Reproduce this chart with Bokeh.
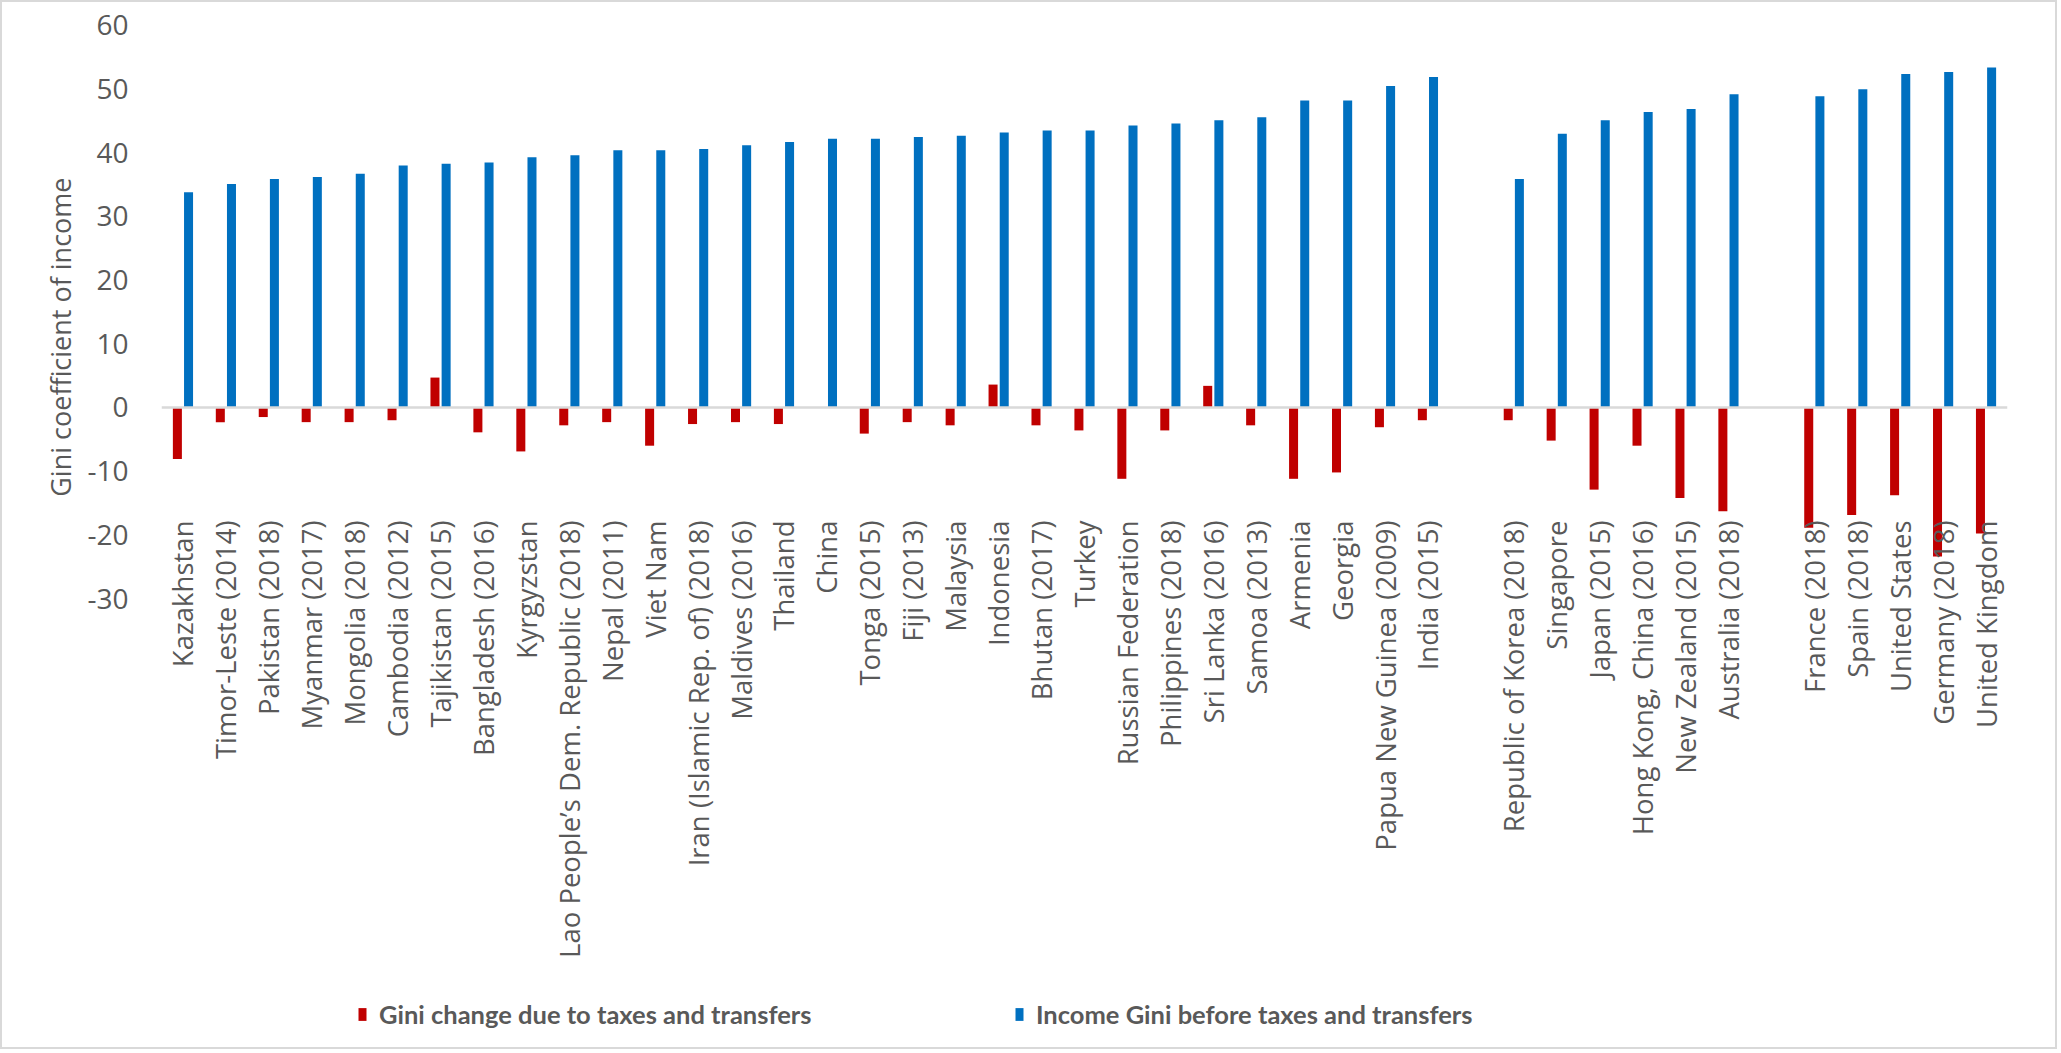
import math

from bokeh.core.properties import value
from bokeh.embed import file_html
from bokeh.models import (ColumnDataSource, FactorRange, FixedTicker, Legend,
                          LegendItem, NumeralTickFormatter, Range1d, Span, Title)
from bokeh.plotting import figure
from bokeh.resources import INLINE
from bokeh.transform import dodge

# Economies, grouped; blank factors separate the three groups
developing = [
    "Kazakhstan", "Timor-Leste (2014)", "Pakistan (2018)", "Myanmar (2017)",
    "Mongolia (2018)", "Cambodia (2012)", "Tajikistan (2015)", "Bangladesh (2016)",
    "Kyrgyzstan", "Lao People\u2019s Dem. Republic (2018)", "Nepal (2011)", "Viet Nam",
    "Iran (Islamic Rep. of) (2018)", "Maldives (2016)", "Thailand", "China",
    "Tonga (2015)", "Fiji (2013)", "Malaysia", "Indonesia", "Bhutan (2017)", "Turkey",
    "Russian Federation", "Philippines (2018)", "Sri Lanka (2016)", "Samoa (2013)",
    "Armenia", "Georgia", "Papua New Guinea (2009)", "India (2015)",
]
developed_apac = [
    "Republic of Korea (2018)", "Singapore", "Japan (2015)", "Hong Kong, China (2016)",
    "New Zealand (2015)", "Australia (2018)",
]
developed_other = [
    "France (2018)", "Spain (2018)", "United States", "Germany (2018)", "United Kingdom",
]

gini_before = [
    33.8, 35.1, 35.9, 36.2, 36.7, 38.0, 38.3, 38.5, 39.3, 39.6, 40.4, 40.4, 40.6,
    41.2, 41.7, 42.2, 42.2, 42.5, 42.7, 43.2, 43.5, 43.5, 44.3, 44.6, 45.1, 45.6,
    48.2, 48.2, 50.5, 51.9,
    35.9, 43.0, 45.1, 46.4, 46.9, 49.2,
    48.9, 50.0, 52.4, 52.7, 53.4,
]
gini_change = [
    -8.1, -2.3, -1.5, -2.3, -2.3, -2.0, 4.7, -3.9, -6.9, -2.8, -2.3, -6.0, -2.6,
    -2.3, -2.6, 0.0, -4.1, -2.3, -2.8, 3.6, -2.8, -3.6, -11.2, -3.6, 3.4, -2.8,
    -11.2, -10.2, -3.1, -2.0,
    -2.0, -5.2, -12.9, -6.0, -14.2, -16.3,
    -18.9, -16.9, -13.8, -23.4, -19.8,
]
y_ticks = [-30, -20, -10, 0, 10, 20, 30, 40, 50, 60]

countries = developing + developed_apac + developed_other
factors = developing + [" "] + developed_apac + ["  "] + developed_other

RED = "#C00000"
BLUE = "#0070C0"
GREY_TEXT = "#595959"

src = ColumnDataSource(dict(country=countries, before=gini_before, change=gini_change,
                            label_y=[-17.75] * len(countries)))

p = figure(
    x_range=FactorRange(*factors, range_padding=0),
    y_range=Range1d(-101.15, 63.14),
    width=2057, height=1049,
    output_backend="svg", toolbar_location=None,
    x_axis_location=None,
    min_border_left=159, min_border_right=52, min_border_top=3, min_border_bottom=0,
)
p.styles = {"border": "2px solid #d9d9d9"}
p.outline_line_color = None
p.xgrid.visible = False
p.ygrid.visible = False
p.background_fill_color = "white"
p.border_fill_color = "white"

# value axis
yax = p.yaxis[0]
yax.ticker = FixedTicker(ticks=y_ticks)
yax.formatter = NumeralTickFormatter(format="0")
yax.axis_line_color = None
yax.major_tick_line_color = None
yax.minor_tick_line_color = None
yax.major_label_standoff = 27
yax.major_label_text_font = "Open Sans"
yax.major_label_text_font_size = "28px"
yax.major_label_text_color = GREY_TEXT

p.add_layout(Title(text="Gini coefficient of income", align="right", offset=172,
                   standoff=12, text_font="Open Sans", text_font_size="27px",
                   text_font_style="normal", text_color=GREY_TEXT), "left")

r_change = p.vbar(x=dodge("country", -0.13, range=p.x_range), top="change", bottom=0,
                  width=0.21, source=src, fill_color=RED, line_color=None)
r_before = p.vbar(x=dodge("country", 0.13, range=p.x_range), top="before", bottom=0,
                  width=0.21, source=src, fill_color=BLUE, line_color=None)

p.add_layout(Span(location=0, dimension="width", line_color="#d9d9d9", line_width=2.5))

# category names, rotated, hanging below the zero line
p.text(x="country", y="label_y", text="country", source=src, angle=math.pi / 2,
       text_align="right", text_baseline="middle", text_font=value("Open Sans"),
       text_font_size="27.5px", text_color=GREY_TEXT)

for item_label, rend, loc in [
    ("Gini change due to taxes and transfers", r_change, (196, 22)),
    ("Income Gini before taxes and transfers", r_before, (853, 22)),
]:
    lg = Legend(items=[LegendItem(label=item_label, renderers=[rend])], location=loc,
                orientation="horizontal", glyph_width=10, glyph_height=16,
                label_standoff=12, padding=0, margin=0, border_line_color=None,
                background_fill_alpha=0, label_text_font="Lato",
                label_text_font_style="bold", label_text_font_size="25.5px",
                label_text_color=GREY_TEXT, label_height=20)
    p.add_layout(lg)

open("out.html", "w").write(file_html(p, INLINE))
